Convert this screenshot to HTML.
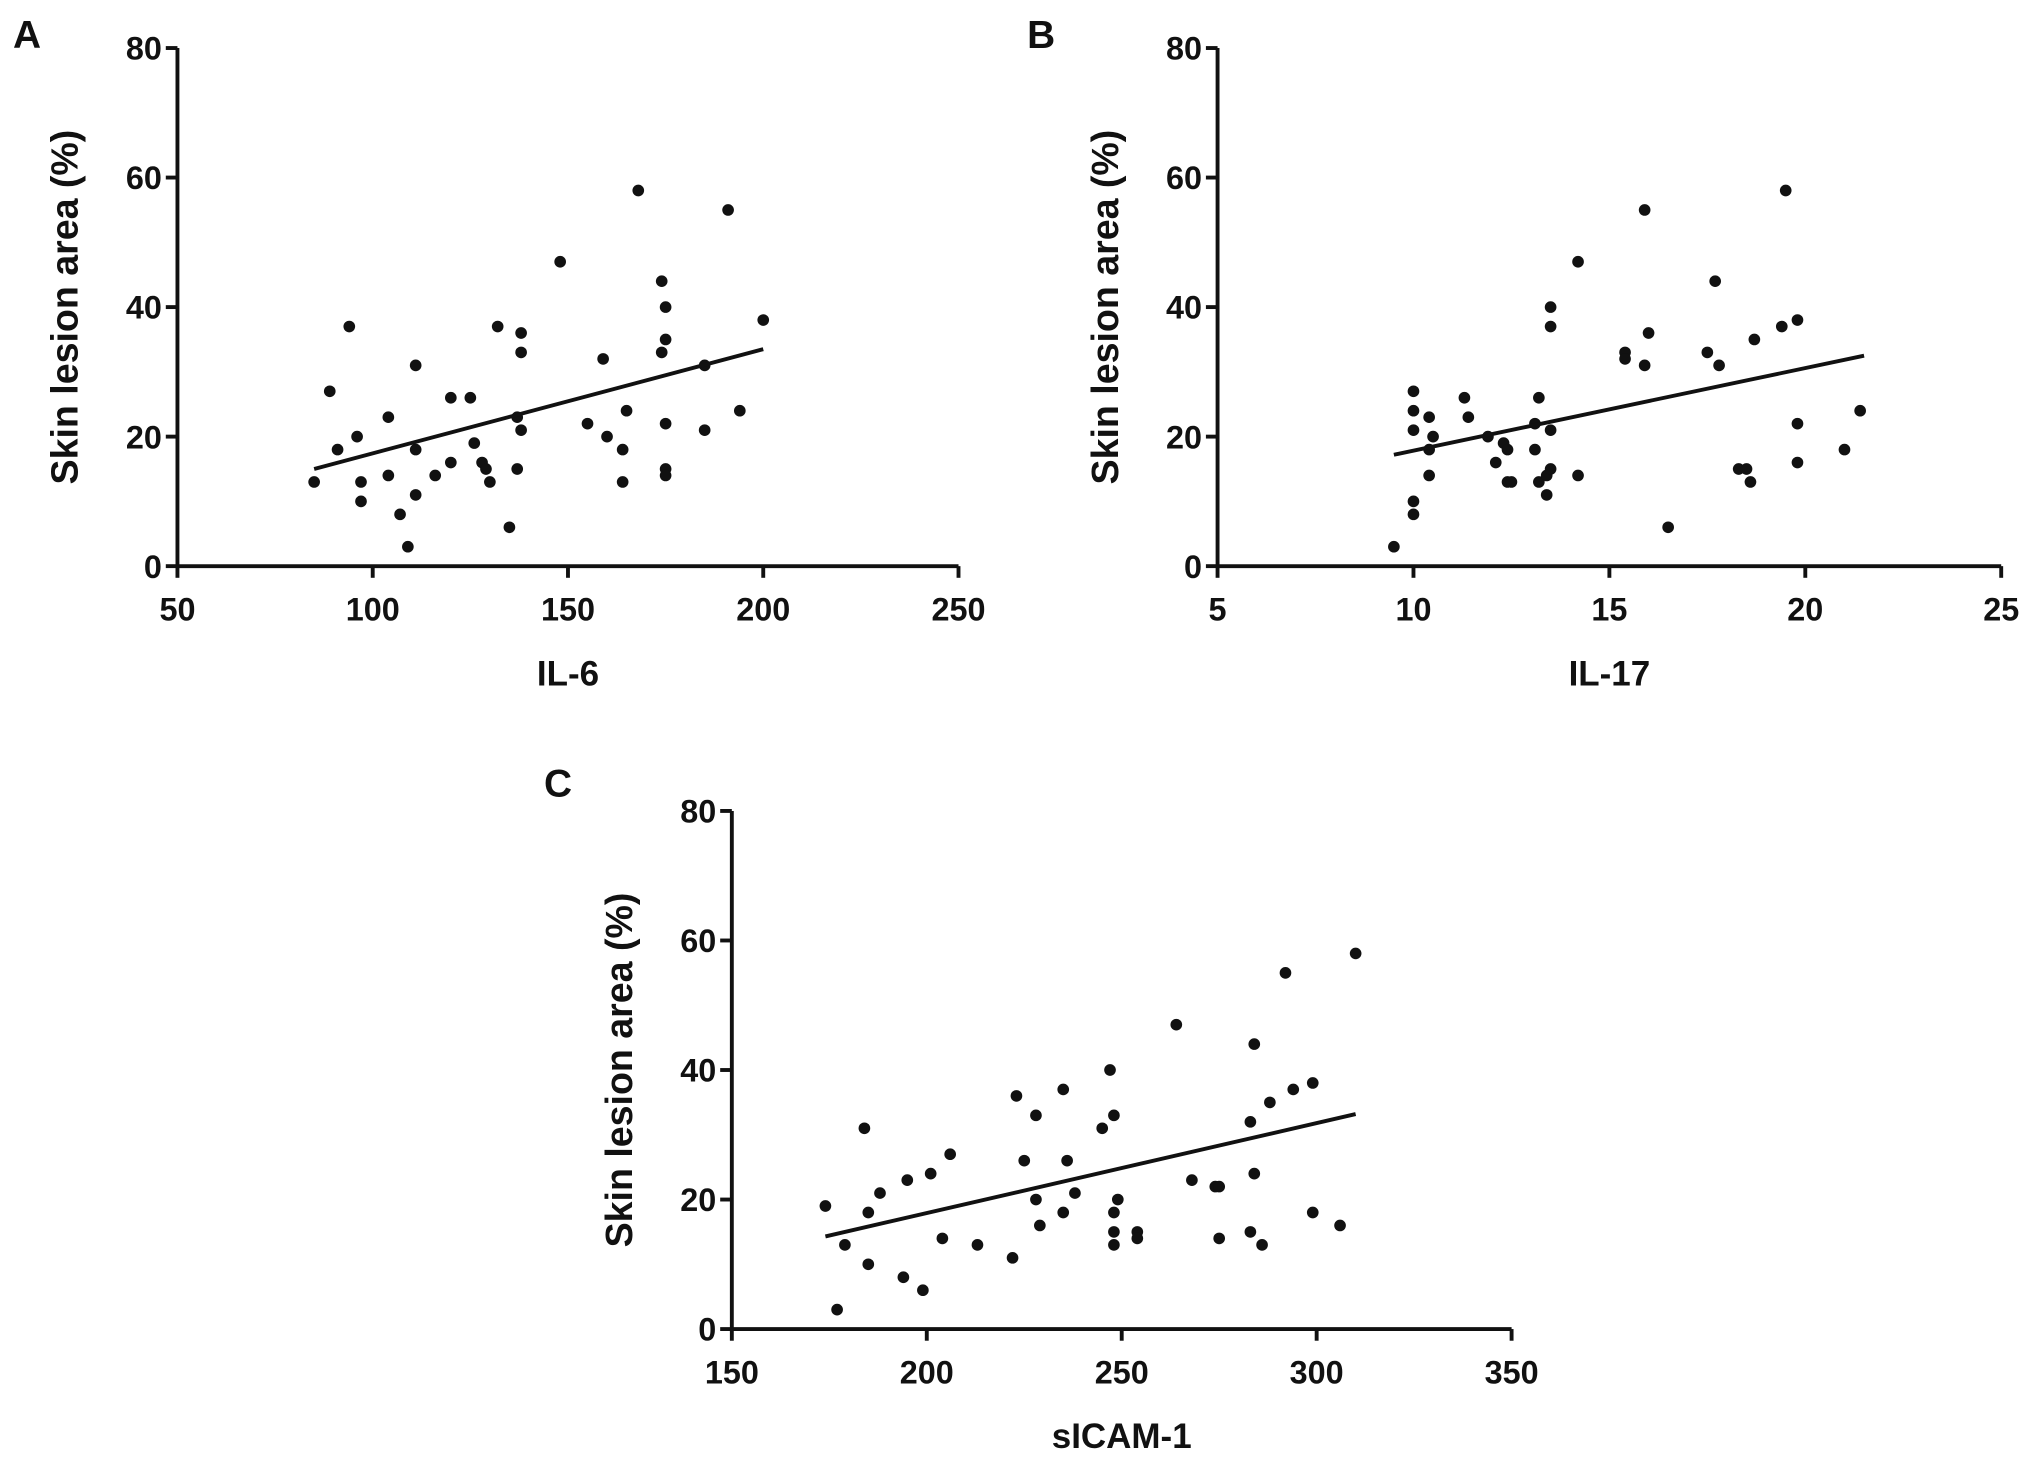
<!DOCTYPE html>
<html><head><meta charset="utf-8"><style>
html,body{margin:0;padding:0;background:#fff;}
svg{display:block;font-family:"Liberation Sans",Arial,sans-serif;font-weight:bold;}
</style></head><body>
<svg id="fig" width="2031" height="1460" viewBox="0 0 1568 1127" xmlns="http://www.w3.org/2000/svg"></svg>
<script>
const aX=[85,89,91,94,96,97,97,104,104,107,111,111,111,109,116,120,120,125,126,128,129,130,132,135,137,137,138,138,138,148,155,159,160,168,164,164,165,174,174,175,175,175,175,175,185,185,191,194,200];
const aY=[13,27,18,37,20,13,10,23,14,8,31,18,11,3,14,26,16,26,19,16,15,13,37,6,23,15,21,36,33,47,22,32,20,58,18,13,24,44,33,40,35,22,15,14,31,21,55,24,38];
const aFit=[[85,15],[200,33.5]];
const bX=[9.5,10,10,10,10,10,10.4,10.5,10.4,10.4,11.3,11.4,11.9,12.1,12.3,12.4,12.4,12.5,13.2,13.1,13.1,13.2,13.4,13.4,13.5,13.5,13.5,13.5,14.2,14.2,15.4,15.4,15.9,16,15.9,16.5,17.5,17.7,17.8,18.3,18.5,18.6,18.7,19.4,19.5,19.8,19.8,19.8,21,21.4];
const bY=[3,8,10,27,24,21,23,20,18,14,26,23,20,16,19,18,13,13,26,22,18,13,11,14,15,21,40,37,47,14,33,32,55,36,31,6,33,44,31,15,15,13,35,37,58,38,22,16,18,24];
const bFit=[[9.5,17.2],[21.5,32.5]];
const cX=[174,177,179,184,185,185,188,194,195,199,201,204,206,213,222,223,225,228,228,229,235,235,236,238,245,247,248,248,248,248,249,254,254,264,268,274,275,275,283,283,284,284,286,288,292,294,299,299,306,310];
const cY=[19,3,13,31,18,10,21,8,23,6,24,14,27,13,11,36,26,33,20,16,37,18,26,21,31,40,18,33,15,13,20,15,14,47,23,22,22,14,15,32,44,24,13,35,55,37,38,18,16,58];
const cFit=[[174,14.3],[310,33.2]];
const yTicks=[0,20,40,60,80];
const aTicks=[50,100,150,200,250], bTicks=[5,10,15,20,25], cTicks=[150,200,250,300,350];

const svg=document.getElementById('fig');
const NS='http://www.w3.org/2000/svg';
function mk(tag,attrs,parent){const e=document.createElementNS(NS,tag);for(const k in attrs)e.setAttribute(k,attrs[k]);(parent||svg).appendChild(e);return e;}
function panel(id,letter,lx,ly,x0,x1,yTop,yBot,xmin,xmax,xs,ys,fit,ticks,title){
  const g=mk('g',{});
  
  
  const sx=v=>x0+(v-xmin)/(xmax-xmin)*(x1-x0);
  const sy=v=>yBot-(v/80)*(yBot-yTop);
  const L=mk('text',{x:lx,y:ly,'font-size':30,fill:'#111'},g);L.textContent=letter;
  
  const ya=mk('line',{x1:x0,y1:yTop,x2:x0,y2:yBot,stroke:'#111','stroke-width':3},g);
  
  const xa=mk('line',{x1:x0,y1:yBot,x2:x1,y2:yBot,stroke:'#111','stroke-width':3},g);
  
  yTicks.forEach(t=>{const y=sy(t);mk('line',{x1:x0-9,y1:y,x2:x0,y2:y,stroke:'#111','stroke-width':3},g);
    const tx=mk('text',{x:x0-12,y:y+9,'font-size':25,'text-anchor':'end',fill:'#111'},g);tx.textContent=t;
    });
  ticks.forEach(t=>{const x=sx(t);mk('line',{x1:x,y1:yBot,x2:x,y2:yBot+9,stroke:'#111','stroke-width':3},g);
    const tx=mk('text',{x:x,y:yBot+42,'font-size':25,'text-anchor':'middle',fill:'#111'},g);tx.textContent=t;
    });
  const yt=mk('text',{x:0,y:0,'font-size':29,'text-anchor':'middle',fill:'#111',transform:`translate(${x0-77},${(yTop+yBot)/2}) rotate(-90)`},g);
  yt.textContent='Skin lesion area (%)';
  const xt=mk('text',{x:(x0+x1)/2,y:yBot+92,'font-size':27,'text-anchor':'middle',fill:'#111'},g);
  xt.textContent=title;
  xs.forEach((v,i)=>{const c=mk('circle',{cx:sx(v),cy:sy(ys[i]),r:4.5,fill:'#111'},g);
    });
  const fl=mk('line',{x1:sx(fit[0][0]),y1:sy(fit[0][1]),x2:sx(fit[1][0]),y2:sy(fit[1][1]),stroke:'#111','stroke-width':3},g);
  
}
panel('a','A',10,37,137,740,37,437,50,250,aX,aY,aFit,aTicks,'IL-6');
panel('b','B',793,37,940,1545,37,437,5,25,bX,bY,bFit,bTicks,'IL-17');
panel('c','C',420,615,565,1167,626,1026,150,350,cX,cY,cFit,cTicks,'sICAM-1');
</script>
</body></html>
